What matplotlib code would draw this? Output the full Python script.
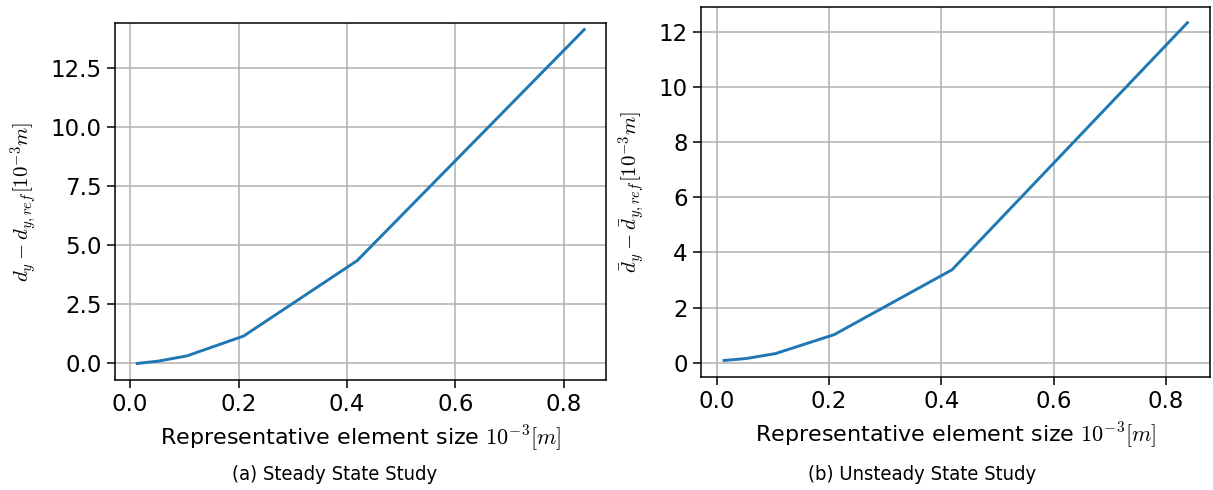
import numpy as np
import matplotlib
matplotlib.use("Agg")
import matplotlib.pyplot as plt

plt.rcParams['mathtext.fontset'] = 'cm'
plt.rcParams['font.family'] = ['DejaVu Sans']

# element sizes (10^-3 m)
elem_size = [0.0131, 0.0524, 0.1047, 0.2094, 0.4189, 0.8378]

# deviation from reference, steady state
steady_dev = [0.0, 0.1, 0.32, 1.16, 4.35, 14.12]

# deviation from reference, unsteady state
unsteady_dev = [0.08, 0.15, 0.33, 1.02, 3.37, 12.33]

W, H = 1213, 490
fig = plt.figure(figsize=(W / 100, H / 100), dpi=100)

def box(x0, y0, x1, y1):
    return [x0 / W, 1 - y1 / H, (x1 - x0) / W, (y1 - y0) / H]

ax1 = fig.add_axes(box(115, 23, 606, 380))
ax2 = fig.add_axes(box(701, 7, 1210, 377))

for ax, y in ((ax1, steady_dev), (ax2, unsteady_dev)):
    ax.plot(elem_size, y, color='#1f77b4', lw=2.1)
    ax.grid(True, color='#b0b0b0', lw=1.1)
    ax.tick_params(labelsize=16.5, length=6, width=1.1)
    ax.set_xlabel(r'Representative element size $10^{-3}[m]$', fontsize=16, labelpad=5)
    ax.set_xticks([0.0, 0.2, 0.4, 0.6, 0.8])
    for s in ax.spines.values():
        s.set_linewidth(1.1)

ax1.set_ylim(-0.7, 14.4)
ax1.set_yticks([0.0, 2.5, 5.0, 7.5, 10.0, 12.5])
ax1.set_xlim(-0.028, 0.878)
ax1.set_ylabel(r'$d_y - d_{y,ref} [10^{-3} m]$', fontsize=15, labelpad=8)

ax2.set_ylim(-0.52, 12.9)
ax2.set_yticks([0, 2, 4, 6, 8, 10, 12])
ax2.set_xlim(-0.028, 0.878)
ax2.set_ylabel(r'$\bar{d}_y - \bar{d}_{y,ref} [10^{-3} m]$', fontsize=15, labelpad=8)

fig.text(335 / W, 1 - 474 / H, '(a) Steady State Study', ha='center', va='center',
         fontsize=14.5, fontstretch='condensed', family=['DejaVu Sans'])
fig.text(922 / W, 1 - 474 / H, '(b) Unsteady State Study', ha='center', va='center',
         fontsize=14.5, fontstretch='condensed', family=['DejaVu Sans'])

fig.savefig('out.png', dpi=100)
